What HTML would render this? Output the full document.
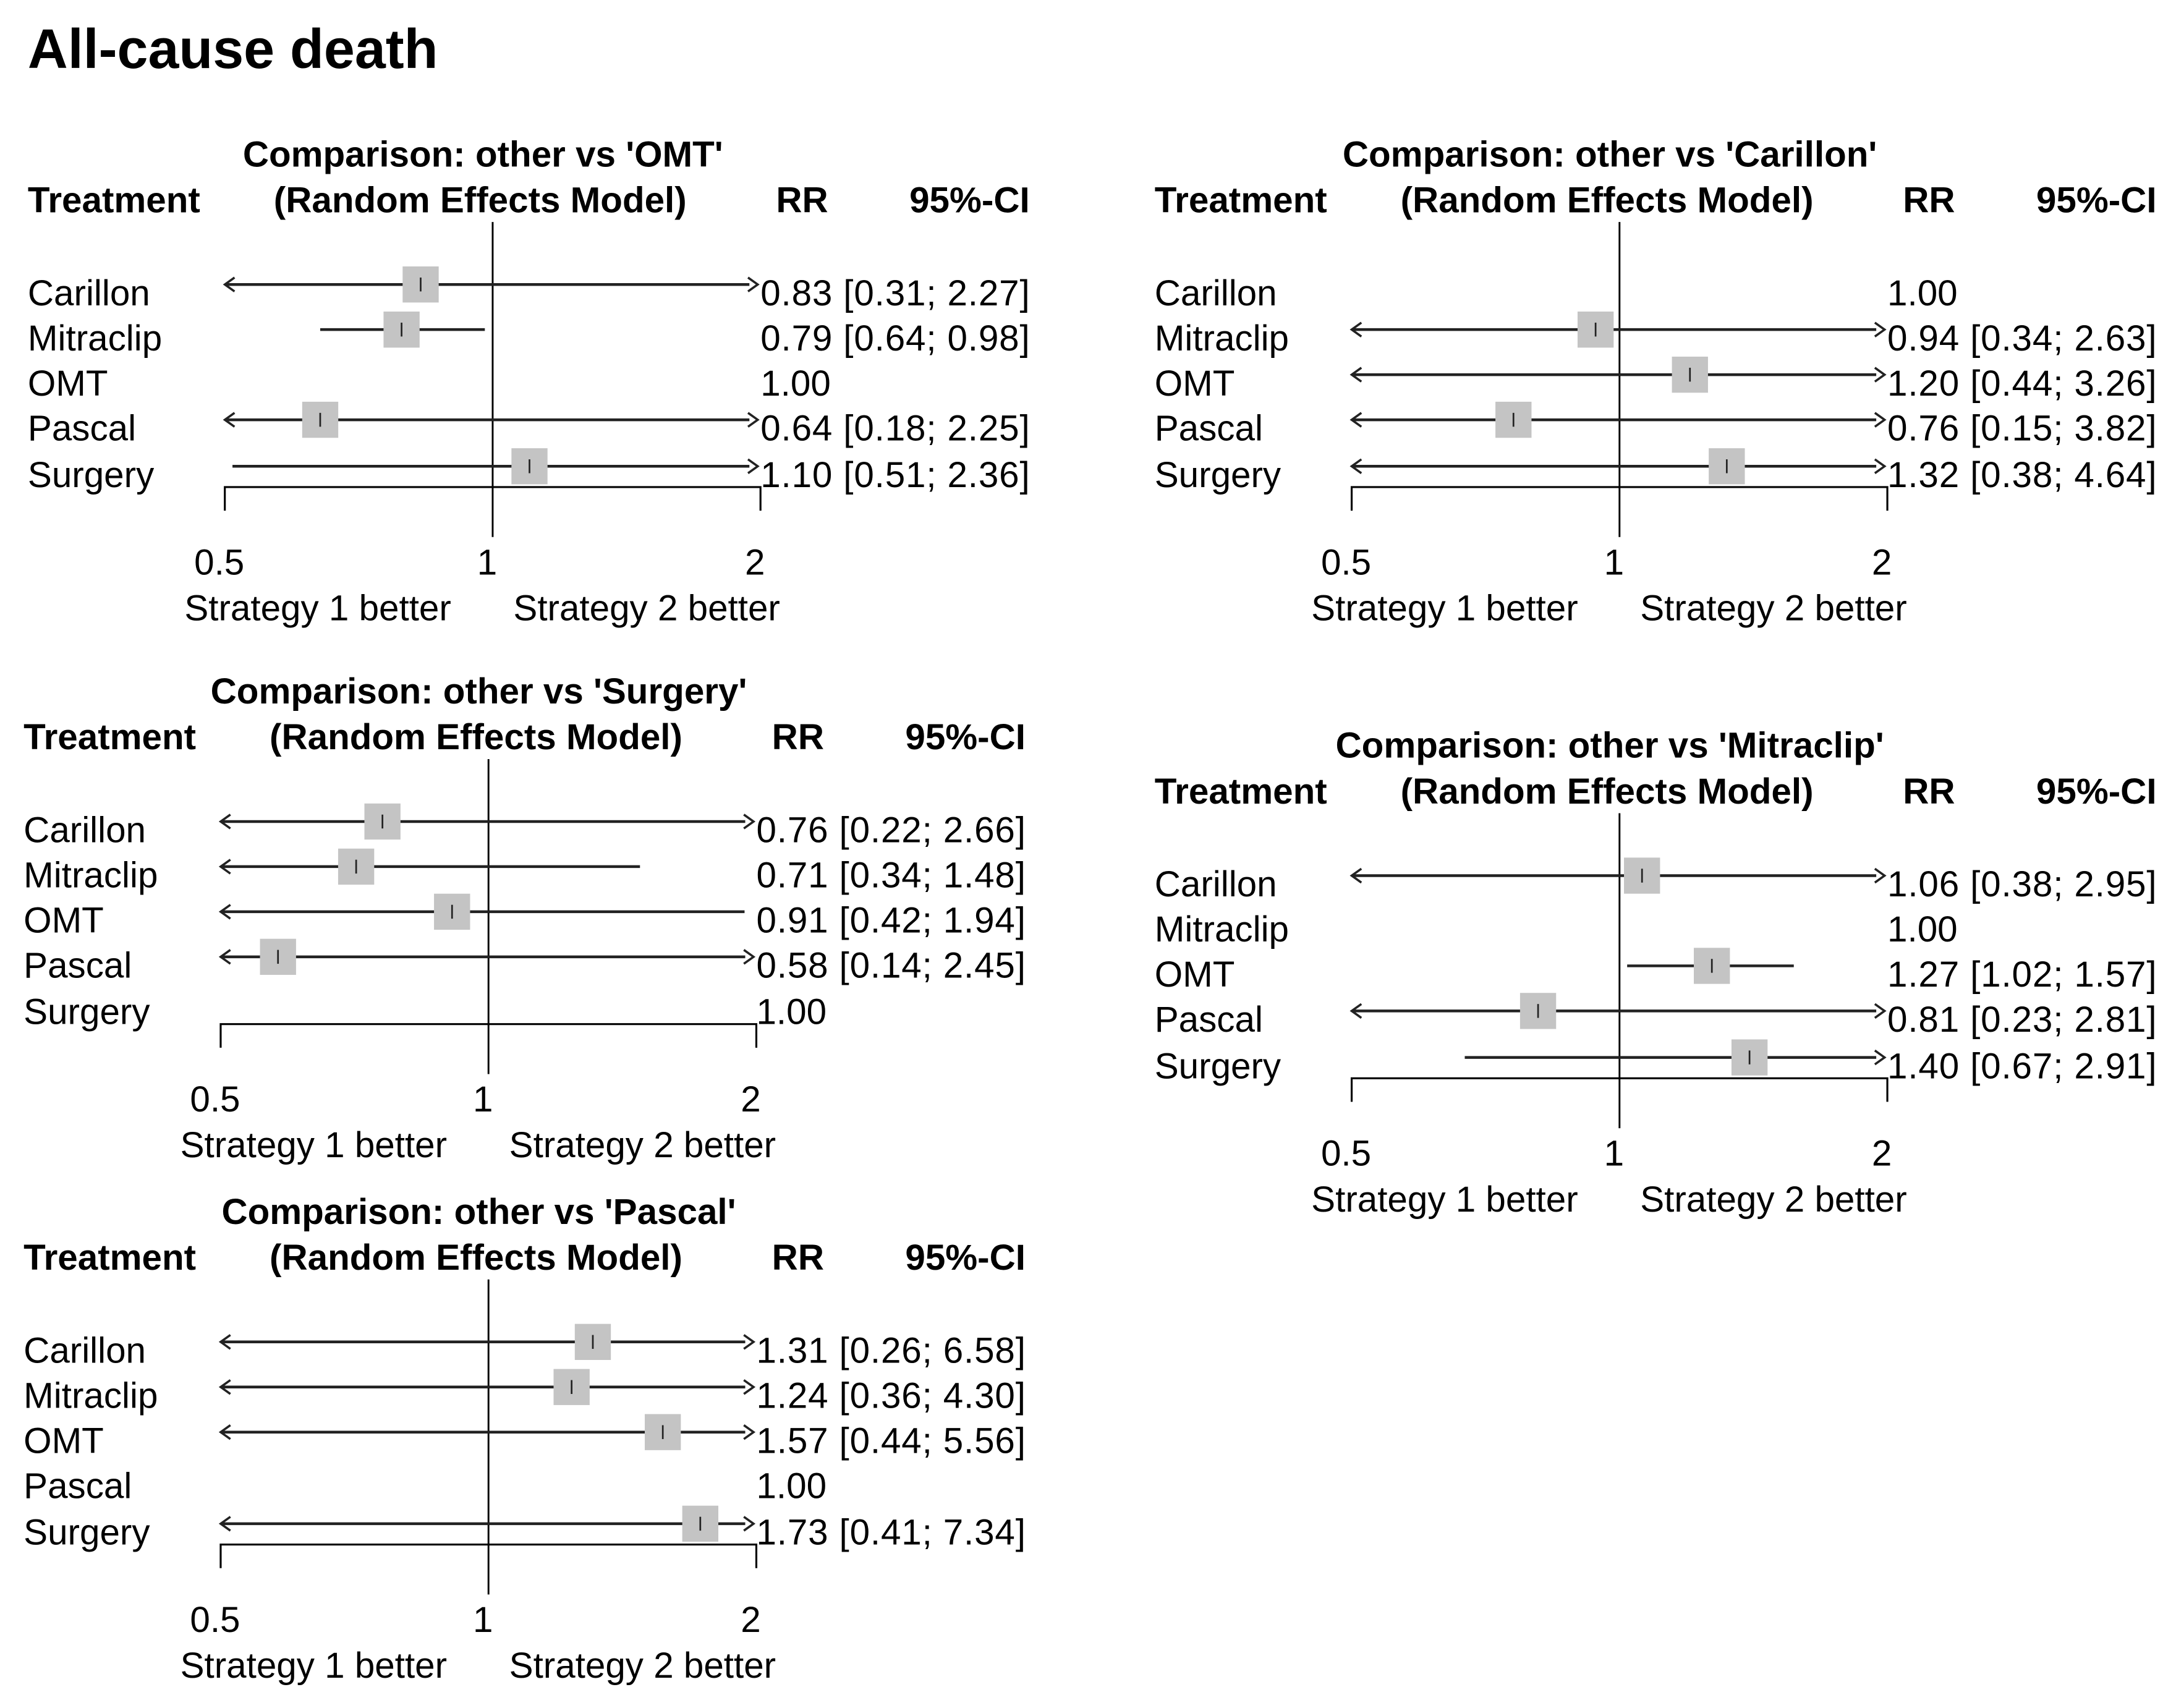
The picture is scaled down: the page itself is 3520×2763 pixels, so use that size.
<!DOCTYPE html>
<html><head><meta charset="utf-8"><style>
html,body{margin:0;padding:0;background:#fff;}
svg{display:block;}
text{font-family:"Liberation Sans",Arial,sans-serif;fill:#000;}
</style></head><body>
<svg id="fig" width="3520" height="2763" viewBox="0 0 1568 1230.8" xmlns="http://www.w3.org/2000/svg">
<text x="20" y="49" font-size="40" font-weight="bold">All-cause death</text>
</svg>
<script>
const treatments = ["Carillon","Mitraclip","OMT","Pascal","Surgery"];
const refOMT = "OMT";
const rrOMT = [0.83,0.79,1.00,0.64,1.10];
const loOMT = [0.31,0.64,null,0.18,0.51];
const hiOMT = [2.27,0.98,null,2.25,2.36];
const refCarillon = "Carillon";
const rrCarillon = [1.00,0.94,1.20,0.76,1.32];
const loCarillon = [null,0.34,0.44,0.15,0.38];
const hiCarillon = [null,2.63,3.26,3.82,4.64];
const refSurgery = "Surgery";
const rrSurgery = [0.76,0.71,0.91,0.58,1.00];
const loSurgery = [0.22,0.34,0.42,0.14,null];
const hiSurgery = [2.66,1.48,1.94,2.45,null];
const refMitraclip = "Mitraclip";
const rrMitraclip = [1.06,1.00,1.27,0.81,1.40];
const loMitraclip = [0.38,null,1.02,0.23,0.67];
const hiMitraclip = [2.95,null,1.57,2.81,2.91];
const refPascal = "Pascal";
const rrPascal = [1.31,1.24,1.57,1.00,1.73];
const loPascal = [0.26,0.36,0.44,null,0.41];
const hiPascal = [6.58,4.30,5.56,null,7.34];
const tickValues = [0.5,1,2];
const tickLabels = ["0.5","1","2"];

const NS="http://www.w3.org/2000/svg";
const svg=document.getElementById('fig');
function mk(tag,attrs,parent){const e=document.createElementNS(NS,tag);for(const k in attrs)e.setAttribute(k,attrs[k]);(parent||svg).appendChild(e);return e;}
function fmt(v){return v.toFixed(2);}

function panel(key,ref,rr,lo,hi,dx,dy){
  const g=mk('g',{transform:`translate(${dx},${dy})`});
  
  
  const x0=162,x1=548;
  const xs=v=>x0+(Math.log2(v)+1)*(x1-x0)/2;
  let t=mk('text',{x:348,y:120,'font-size':26,'font-weight':'bold','text-anchor':'middle'},g);
  t.textContent="Comparison: other vs '"+ref+"'";
  
  
  const hdr=[["Treatment",20,'start'],["(Random Effects Model)",346,'middle'],["RR",578,'middle'],["95%-CI",742,'end']];
  hdr.forEach(h=>{const e=mk('text',{x:h[1],y:153,'font-size':26,'font-weight':'bold','text-anchor':h[2]},g);e.textContent=h[0];
    
    });
  const rl=mk('line',{x1:xs(1),x2:xs(1),y1:160,y2:387,stroke:'#000','stroke-width':1.3},g);
  
  
  const rowY=[205,237.5,270,302.5,336];
  treatments.forEach((name,i)=>{
    const y=rowY[i];
    const lb=mk('text',{x:20,y:y+15,'font-size':26},g);lb.textContent=name;
    
    
    const vt=mk('text',{x:x1,y:y+15,'font-size':26},g);
    if(lo[i]==null){vt.textContent=fmt(rr[i]);}
    else{vt.textContent=fmt(rr[i])+" ["+fmt(lo[i])+"; "+fmt(hi[i])+"]";vt.setAttribute('textLength','194');}
    
    
    if(lo[i]==null) return;
    const la=lo[i]<0.5, ra=hi[i]>2;
    const lx=la?x0:xs(lo[i]), rx=ra?x1-8:xs(hi[i]);
    const ci=mk('line',{x1:lx,x2:rx,y1:y,y2:y,stroke:'#222','stroke-width':2},g);
    
    
    if(la){const a=mk('path',{d:`M${x0+7},${y-5} L${x0},${y} L${x0+7},${y+5}`,fill:'none',stroke:'#222','stroke-width':1.6},g);
      
      }
    if(ra){const a=mk('path',{d:`M${x1-9},${y-5} L${x1-2},${y} L${x1-9},${y+5}`,fill:'none',stroke:'#222','stroke-width':1.6},g);
      
      }
    const cx=xs(rr[i]);
    const sq=mk('rect',{x:cx-13,y:y-13,width:26,height:26,fill:'#c4c4c4'},g);
    
    
    const tk=mk('line',{x1:cx,x2:cx,y1:y-5,y2:y+5,stroke:'#222','stroke-width':1.2},g);
    
    
  });
  const ax=mk('path',{d:`M${x0},${368} L${x0},351 L${x1},351 L${x1},368`,fill:'none',stroke:'#000','stroke-width':1.4},g);
  
  
  tickValues.forEach((v,i)=>{const e=mk('text',{x:xs(v)-4,y:414,'font-size':26,'text-anchor':'middle'},g);e.textContent=tickLabels[i];
    
    });
  const s1=mk('text',{x:229,y:447,'font-size':26,'text-anchor':'middle'},g);s1.textContent="Strategy 1 better";
  
  
  const s2=mk('text',{x:466,y:447,'font-size':26,'text-anchor':'middle'},g);s2.textContent="Strategy 2 better";
  
  
}
panel('omt',refOMT,rrOMT,loOMT,hiOMT,0,0);
panel('carillon',refCarillon,rrCarillon,loCarillon,hiCarillon,812,0);
panel('surgery',refSurgery,rrSurgery,loSurgery,hiSurgery,-3,387);
panel('mitraclip',refMitraclip,rrMitraclip,loMitraclip,hiMitraclip,812,426);
panel('pascal',refPascal,rrPascal,loPascal,hiPascal,-3,762);
</script>
</body></html>
